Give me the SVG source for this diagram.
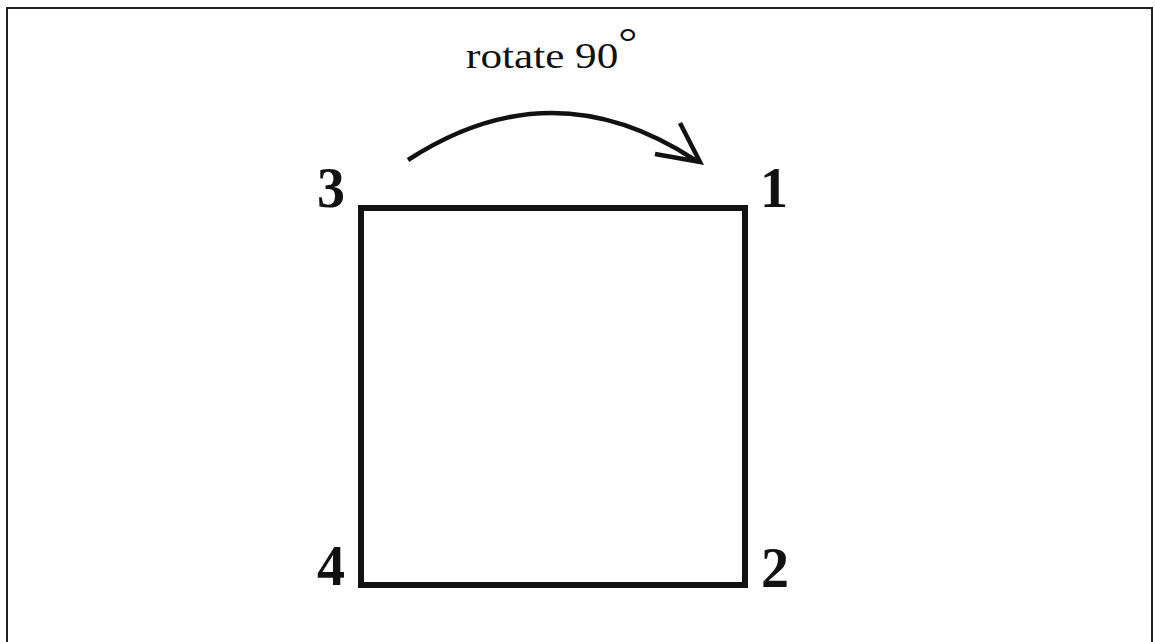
<svg xmlns="http://www.w3.org/2000/svg" width="1155" height="642" viewBox="0 0 1155 642">
<style>
.num{font-family:"Liberation Serif",serif;font-weight:bold;font-size:56px;fill:#111;text-anchor:middle}
.lbl{font-family:"Liberation Serif",serif;font-size:36px;fill:#111}
.ln{fill:none;stroke:#111;stroke-linecap:butt}
</style>
<rect width="1155" height="642" fill="#fff"/>
<rect id="frame" x="7" y="8" width="1145" height="640" fill="none" stroke="#222" stroke-width="2"/>
<g id="square">
<rect x="361" y="208" width="384" height="377" class="ln" stroke-width="6"/>
</g>
<g id="corner-labels">
<text class="num" x="331" y="207">3</text>
<text class="num" x="774" y="207">1</text>
<text class="num" x="331" y="585">4</text>
<text class="num" x="775" y="587">2</text>
</g>
<g id="label">
<text class="lbl" transform="translate(466,68) scale(1.2,1)">rotate 90<tspan font-size="40" dy="-12">°</tspan></text>
</g>
<g id="connectors">
<path class="ln" stroke-width="4.5" d="M408,160 Q552,66 695,160"/>
<path class="ln" stroke-width="4.5" d="M680,123 L700,162 L655,154"/>
</g>
</svg>
